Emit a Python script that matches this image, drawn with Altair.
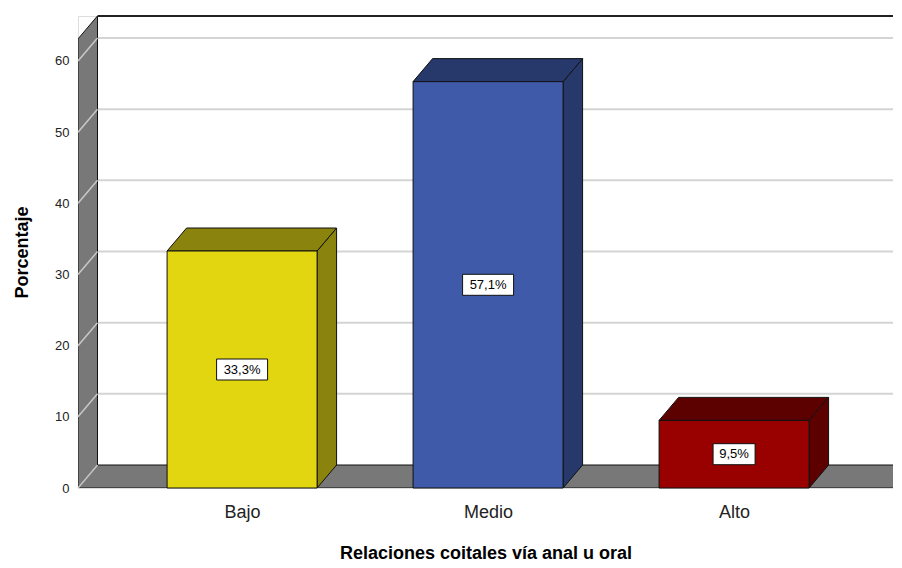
import altair as alt
import pandas as pd

categories = ["Bajo", "Medio", "Alto"]
percentages = [33.3, 57.1, 9.5]
value_labels = ["33,3%", "57,1%", "9,5%"]
front_colors = ["#E2D610", "#3E5AA8", "#990000"]
side_colors = ["#8A830D", "#26396A", "#5C0000"]
y_ticks = [0, 10, 20, 30, 40, 50, 60]

# layout constants (plot area in pixels and scale units)
W, H = 815, 472
PX_X = 246.0                 # pixels per category step
X0 = -0.667
X1 = X0 + W / PX_X
Y1 = 66.32
PX_Y = H / Y1
DX = 19.5 / PX_X             # 3D depth, x
DY = 23.0 / PX_Y             # 3D depth, y
HW = 75.0 / PX_X             # bar half width
WALL_TOP = 63.1
FLOOR_R = (897 - 242) / PX_X

xscale = alt.Scale(domain=[X0, X1], nice=False, zero=False)
yscale = alt.Scale(domain=[0, Y1], nice=False, zero=False)
label_expr = "[" + ",".join(f"'{c}'" for c in categories) + "][datum.value]"
xaxis = alt.Axis(values=[0, 1, 2], labelExpr=label_expr, domain=False, ticks=False, grid=False,
                 labelFontSize=18, labelColor="#222", labelPadding=15,
                 title="Relaciones coitales vía anal u oral", titleFontSize=18,
                 titleFontWeight="bold", titleColor="#000", titlePadding=23)
yaxis = alt.Axis(values=y_ticks, domain=False, ticks=False, grid=False,
                 labelFontSize=13, labelColor="#222", labelPadding=9,
                 title="Porcentaje", titleFontSize=18, titleFontWeight="bold",
                 titleColor="#000", titlePadding=23)


def X(f):
    return alt.X(f"{f}:Q", scale=xscale, axis=xaxis)


def Y(f):
    return alt.Y(f"{f}:Q", scale=yscale, axis=yaxis, stack=None)


def hface(pid, xa, xb, level, col):
    return [
        dict(id=pid, x=xa, y=level, y2=level, col=col),
        dict(id=pid, x=xa + DX, y=level, y2=level + DY, col=col),
        dict(id=pid, x=xb, y=level, y2=level + DY, col=col),
        dict(id=pid, x=xb + DX, y=level + DY, y2=level + DY, col=col),
    ]


def vface(pid, xa, top, col):
    return [
        dict(id=pid, x=xa, y=0, y2=top, col=col),
        dict(id=pid, x=xa + DX, y=DY, y2=top + DY, col=col),
    ]


# frame: left wall + floor
frame_rows = vface("wall", X0, WALL_TOP, "#787878") + hface("floor", X0, FLOOR_R, 0, "#787878")
frame_df = pd.DataFrame(frame_rows)

wall_grid = pd.DataFrame({"x": [X0] * len(y_ticks), "x2": [X0 + DX] * len(y_ticks),
                          "y": y_ticks, "y2": [v + DY for v in y_ticks]})
back_grid = pd.DataFrame({"x": [X0 + DX] * (len(y_ticks) - 1), "x2": [X1] * (len(y_ticks) - 1),
                          "y": [v + DY for v in y_ticks[1:]]})
top_line = pd.DataFrame({"x": [X0 + DX], "x2": [X1], "y": [WALL_TOP + DY]})

bar_rows = []
for i, (v, sc) in enumerate(zip(percentages, side_colors)):
    bar_rows += vface(f"s{i}", i + HW, v, sc)
    bar_rows += hface(f"t{i}", i - HW, i + HW, v, sc)
bar_df = pd.DataFrame(bar_rows)

front_df = pd.DataFrame({"x": [i - HW for i in range(3)], "x2": [i + HW for i in range(3)],
                         "y": [0] * 3, "y2": percentages, "col": front_colors})

lab_df = pd.DataFrame({"xc": list(range(3)), "yc": [v / 2 for v in percentages], "lab": value_labels})
lab_df["x"] = lab_df["xc"] - (lab_df["lab"].str.len() * 9 + 6) / 2 / PX_X
lab_df["x2"] = lab_df["xc"] + (lab_df["lab"].str.len() * 9 + 6) / 2 / PX_X
lab_df["y"] = lab_df["yc"] - 10.5 / PX_Y
lab_df["y2"] = lab_df["yc"] + 10.5 / PX_Y

back_grid_layer = alt.Chart(back_grid).mark_rule(color="#d4d4d4", strokeWidth=2, clip=True).encode(
    x=X("x"), x2="x2", y=Y("y"))
frame_layer = alt.Chart(frame_df).mark_area(stroke="#111", strokeWidth=1, orient="vertical", clip=True).encode(
    x=X("x"), y=Y("y"), y2="y2", detail="id:N", fill=alt.Fill("col:N", scale=None))
wall_grid_layer = alt.Chart(wall_grid).mark_rule(color="#c8c8c8", strokeWidth=1.5).encode(
    x=X("x"), x2="x2", y=Y("y"), y2="y2")
top_line_layer = alt.Chart(top_line).mark_rule(color="#222", strokeWidth=2).encode(
    x=X("x"), x2="x2", y=Y("y"))
bar3d_layer = alt.Chart(bar_df).mark_area(stroke="#111", strokeWidth=1, orient="vertical").encode(
    x=X("x"), y=Y("y"), y2="y2", detail="id:N", fill=alt.Fill("col:N", scale=None))
front_layer = alt.Chart(front_df).mark_rect(stroke="#111", strokeWidth=1).encode(
    x=X("x"), x2="x2", y=Y("y"), y2="y2", fill=alt.Fill("col:N", scale=None))
box_layer = alt.Chart(lab_df).mark_rect(fill="white", stroke="#111", strokeWidth=1).encode(
    x=X("x"), x2="x2", y=Y("y"), y2="y2")
text_layer = alt.Chart(lab_df).mark_text(fontSize=13, color="#000", baseline="middle", align="center").encode(
    x=X("xc"), y=Y("yc"), text="lab:N")

chart = alt.layer(back_grid_layer, frame_layer, wall_grid_layer, top_line_layer,
                  bar3d_layer, front_layer, box_layer, text_layer).properties(
    width=W, height=H, autosize=alt.AutoSizeParams(type="none"),
    padding={"left": 70, "top": 8, "right": 0, "bottom": 76},
    background="white"
).configure_view(stroke=None).configure(font="Liberation Sans")

chart.save("out.html", embed_options={"renderer": "svg", "actions": False})
